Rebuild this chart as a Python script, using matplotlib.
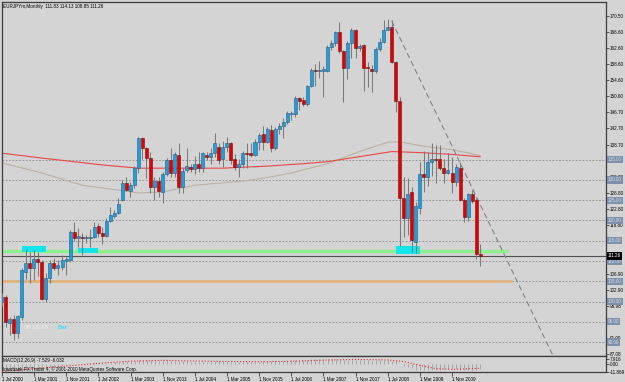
import numpy as np
import matplotlib.pyplot as plt
import matplotlib.transforms as mtransforms
from matplotlib.patches import Rectangle

plt.rcParams['font.family'] = ['Liberation Sans', 'DejaVu Sans']

# EURJPYm monthly bars, Jul 2000 .. Jun 2010 (bar index 0..119)
opens = [100.0, 101.1, 94.8, 95.7, 92.2, 96.2, 107.3, 109.4, 108.2, 110.4,
         109.7, 100.6, 105.8, 109.4, 108.2, 108.5, 109.9, 110.2, 117.1, 115.8,
         115.9, 115.7, 115.7, 115.9, 118.6, 116.9, 116.2, 119.9, 121.1, 121.8,
         125.0, 129.2, 127.2, 128.7, 132.9, 140.3, 137.8, 135.4, 128.2, 129.7,
         127.0, 131.5, 134.9, 131.7, 136.1, 128.2, 132.4, 133.2, 132.7, 133.9,
         132.9, 136.1, 135.6, 136.6, 138.1, 135.2, 138.1, 139.1, 135.2, 133.2,
         133.9, 136.6, 136.6, 136.1, 139.4, 141.3, 139.4, 142.3, 137.9, 142.5,
         143.3, 144.3, 146.3, 146.3, 150.2, 149.7, 148.7, 153.2, 157.1, 156.9,
         156.9, 156.9, 162.9, 163.8, 166.5, 161.8, 157.6, 163.8, 167.0, 162.5,
         163.3, 157.8, 157.3, 156.9, 162.3, 164.0, 167.0, 167.7, 159.1, 149.5,
         125.6, 120.6, 127.0, 114.6, 123.0, 131.5, 130.7, 134.4, 135.2, 135.2,
         132.9, 131.7, 131.7, 129.4, 132.9, 125.0, 120.8, 126.5, 125.0, 111.83]
highs = [102.0, 101.6, 96.2, 96.7, 96.8, 108.3, 113.0, 112.3, 112.8, 112.3,
         110.2, 107.0, 110.2, 110.7, 110.2, 111.4, 111.0, 117.6, 119.6, 118.1,
         116.9, 116.5, 118.0, 119.6, 119.3, 118.4, 120.5, 123.3, 122.7, 125.5,
         130.0, 130.7, 129.5, 133.5, 140.5, 140.5, 138.1, 136.8, 130.7, 130.7,
         132.0, 135.5, 137.8, 137.0, 139.1, 133.0, 137.8, 134.0, 136.0, 137.0,
         137.0, 137.0, 137.8, 141.6, 139.0, 139.6, 140.6, 139.4, 136.3, 135.2,
         137.1, 139.0, 139.1, 140.1, 141.6, 143.3, 143.0, 143.5, 143.0, 144.0,
         145.3, 147.0, 147.0, 150.7, 150.5, 150.5, 153.5, 157.5, 158.6, 159.3,
         158.1, 163.3, 164.5, 166.8, 169.0, 162.0, 164.3, 167.5, 167.3, 163.5,
         163.5, 159.1, 158.3, 162.8, 165.0, 169.4, 169.7, 169.4, 159.3, 150.5,
         130.7, 130.5, 128.2, 124.5, 134.4, 137.1, 137.0, 139.2, 138.6, 138.6,
         135.2, 136.7, 135.7, 133.9, 134.4, 125.5, 126.8, 127.5, 125.5, 114.13]
lows = [99.0, 93.7, 91.8, 90.5, 91.0, 95.5, 105.5, 104.6, 105.3, 106.3,
        100.3, 99.9, 104.6, 107.8, 106.5, 107.8, 106.5, 109.7, 115.0, 113.5,
        111.4, 114.5, 113.5, 115.6, 115.9, 114.2, 115.9, 119.6, 120.5, 121.6,
        124.8, 127.2, 125.8, 128.0, 131.7, 135.2, 130.4, 126.7, 125.0, 125.7,
        124.3, 131.0, 130.7, 130.7, 126.7, 126.7, 132.0, 132.0, 131.5, 132.0,
        132.0, 135.0, 133.9, 135.6, 133.9, 133.2, 136.8, 134.0, 132.4, 130.7,
        133.0, 133.0, 135.6, 135.8, 137.5, 137.4, 139.0, 136.9, 137.5, 141.3,
        140.3, 143.8, 144.7, 145.5, 147.3, 148.3, 148.3, 152.9, 153.2, 155.2,
        150.5, 156.7, 162.0, 163.0, 161.3, 149.2, 154.9, 160.0, 160.0, 161.7,
        151.9, 153.0, 151.7, 156.3, 161.7, 163.8, 167.0, 158.9, 146.8, 113.6,
        115.9, 116.5, 112.2, 112.1, 121.6, 127.0, 128.5, 131.0, 129.2, 132.5,
        129.2, 131.5, 126.7, 128.5, 124.8, 119.6, 119.8, 124.3, 110.4, 108.85]
closes = [101.1, 94.9, 95.7, 92.2, 96.4, 107.8, 109.4, 108.2, 110.6, 109.7,
          100.6, 105.8, 109.4, 108.2, 108.9, 110.2, 110.6, 117.1, 115.6, 115.95,
          115.6, 115.9, 116.0, 118.4, 116.9, 116.2, 119.9, 121.3, 121.8, 124.0,
          129.2, 127.5, 128.7, 132.9, 140.3, 137.8, 135.4, 128.2, 129.7, 127.2,
          131.5, 134.9, 131.7, 136.3, 128.2, 132.2, 133.4, 132.7, 133.9, 132.9,
          136.6, 135.6, 136.6, 139.1, 134.9, 138.1, 139.1, 134.9, 133.2, 133.9,
          136.6, 136.3, 136.1, 139.4, 141.1, 139.4, 142.5, 137.9, 142.5, 143.3,
          144.3, 146.5, 146.5, 150.2, 149.5, 148.7, 153.2, 157.1, 156.9, 157.0,
          157.3, 162.9, 163.8, 166.5, 161.8, 157.6, 163.8, 167.0, 162.5, 163.0,
          157.6, 157.6, 156.9, 162.3, 164.0, 167.0, 167.7, 159.1, 149.5, 125.6,
          120.6, 126.5, 115.1, 123.6, 131.5, 130.7, 134.4, 135.2, 134.9, 132.9,
          131.7, 132.4, 129.4, 133.2, 125.0, 120.8, 126.5, 124.8, 111.8, 111.26]

# moving averages (read at a few bars)
ma_red_bars = [0, 10, 25, 34, 50, 55, 66, 75, 81, 90, 97, 105, 112, 119]
ma_red_vals = [136.6, 135.4, 133.7, 132.9, 132.9, 132.9, 133.4, 134.0, 134.5,
               135.9, 137.0, 136.7, 136.3, 135.7]
ma_gray_bars = [0, 10, 20, 34, 40, 48, 60, 65, 72, 81, 89, 96, 99, 105, 113, 119]
ma_gray_vals = [134.2, 131.7, 128.7, 126.8, 127.0, 128.7, 129.7, 130.4, 131.7,
                134.0, 137.0, 139.3, 139.4, 138.3, 137.3, 136.0]

# MACD(12,26,9)
macd_main = [-9.6, -10.4, -11.1, -11.6, -11.87, -10.6, -9.2, -8.0, -6.8, -5.9,
             -6.0, -5.4, -4.6, -4.0, -3.4, -2.8, -2.2, -1.0, -0.2, 0.3,
             0.7, 1.0, 1.3, 1.7, 1.8, 1.9, 2.2, 2.6, 3.0, 3.5,
             4.3, 4.7, 5.0, 5.5, 6.6, 7.1, 7.2, 6.7, 6.3, 5.9,
             5.8, 5.9, 5.7, 5.6, 5.0, 4.7, 4.5, 4.2, 4.1, 3.9,
             4.0, 4.0, 4.1, 4.4, 4.3, 4.3, 4.4, 4.1, 3.8, 3.5,
             3.5, 3.5, 3.5, 3.8, 4.2, 4.4, 4.7, 4.6, 4.8, 5.0,
             5.3, 5.6, 5.8, 6.2, 6.4, 6.5, 6.9, 7.4, 7.6, 7.8,
             7.8, 7.9, 7.9, 7.9, 7.6, 7.0, 7.0, 7.2, 7.1, 7.0,
             6.5, 6.1, 5.7, 5.8, 5.9, 6.2, 6.4, 5.7, 4.4, 1.2,
             -1.8, -3.5, -6.2, -8.3, -8.6, -8.9, -8.6, -8.2, -7.9, -7.8,
             -7.7, -7.5, -7.7, -7.4, -7.9, -8.4, -8.0, -7.8, -8.3, -7.529]
signal_bars = [0, 8, 16, 20, 24, 32, 40, 48, 56, 64, 72, 80, 88, 96, 100, 104,
               108, 112, 119]
signal_vals = [-10.5, -6.5, -2.5, -0.6, 1.5, 4.8, 6.0, 5.0, 4.3, 4.0, 4.6, 6.3,
               7.4, 6.6, 4.2, -1.5, -6.5, -7.6, -6.0]

# drawn objects
grid_levels = [135, 130, 125, 120, 115, 110, 105, 100, 95, 90]
level_labels = ['135.00', '130.00', '125.00', '120.00', '115.00', '110.00',
                '105.00', '100.00', '95.00', '90.00']
boxes = [(5, 11, 112.3, 113.6), (19, 24, 112.1, 113.2), (98, 104, 111.7, 113.6)]
green_level, green_end = 112.5, 126
orange_level, orange_end = 105.1, 127
trend_bars = [97, 137]
trend_prices = [169.2, 86.9]
bid = 111.26

# scale labels that are not hidden behind the level boxes
price_labels = ['170.50', '166.60', '162.60', '158.60', '154.60', '150.60',
                '146.70', '142.70', '138.70', '130.70', '126.80',
                '122.80', '118.80', '106.90', '102.90',
                '98.98', '91.00', '87.08']
time_idx = [0, 8, 16, 24, 32, 40, 48, 56, 64, 72, 80, 88, 96, 104, 112]
time_labels = ['1 Jul 2000', '1 Mar 2001', '1 Nov 2001', '1 Jul 2002',
               '1 Mar 2003', '1 Nov 2003', '1 Jul 2004', '1 Mar 2005',
               '1 Nov 2005', '1 Jul 2006', '1 Mar 2007', '1 Nov 2007',
               '1 Jul 2008', '1 Mar 2009', '1 Nov 2009']

bg = '#d4d4d4'
edge = '#3c3c3c'
fs = 3.3

fig = plt.figure(figsize=(6.25, 3.82), dpi=100, facecolor=bg)
ax = fig.add_axes([2 / 625, (382 - 355.7) / 382, 604 / 625, 353.7 / 382])
axm = fig.add_axes([2 / 625, (382 - 372.3) / 382, 604 / 625, 16.6 / 382])
for a in (ax, axm):
    a.set_facecolor(bg)
    a.set_xlim(0.075, 150.3)
    for s in a.spines.values():
        s.set_color(edge)
        s.set_linewidth(0.9)

ax.set_ylim(86.65, 173.88)

# grid lines
for lv in grid_levels:
    ax.axhline(lv, color='#8c8c8c', lw=0.6, ls=(0, (2, 2)), zorder=1)

# moving averages
ax.plot(ma_gray_bars, ma_gray_vals, color='#bcb2a4', lw=0.8, zorder=2)
ax.plot(ma_red_bars, ma_red_vals, color='#e84848', lw=0.8, zorder=2)

# levels and boxes
ax.hlines(green_level, -2, green_end, color='#8cf08c', lw=2.4, zorder=2)
ax.hlines(orange_level, -2, orange_end, color='#e2b27e', lw=2.0, zorder=2)
for x0, x1, p0, p1 in boxes:
    ax.add_patch(Rectangle((x0, p0), x1 - x0, p1 - p0, fc='#10e6ec',
                           ec='none', zorder=2.5))
ax.axhline(bid, color='#505050', lw=0.8, zorder=2)
ax.plot(trend_bars, trend_prices, color='#7c8888', lw=0.8,
        ls=(0, (5, 3)), zorder=3)

# candles
idx = np.arange(len(opens))
o = np.array(opens)
c = np.array(closes)
ax.vlines(idx, lows, highs, color='#7a7a7a', lw=0.75, zorder=4)
up = c >= o
bottoms = np.minimum(o, c)
heights = np.maximum(np.abs(c - o), 0.25)
ax.bar(idx[up], heights[up], bottom=bottoms[up], width=0.75,
       color='#1e9fe2', edgecolor='#2c5878', lw=0.4, zorder=5)
ax.bar(idx[~up], heights[~up], bottom=bottoms[~up], width=0.75,
       color='#e40000', edgecolor='#701010', lw=0.4, zorder=5)

# price scale
ax.yaxis.tick_right()
ax.set_yticks([float(t) for t in price_labels])
ax.set_yticklabels(price_labels)
ax.tick_params(axis='y', length=2, width=0.6, color=edge, labelsize=fs, pad=1)
ax.set_xticks([])
trans = mtransforms.blended_transform_factory(ax.transAxes, ax.transData)
for lv, lab in zip(grid_levels, level_labels):
    ax.text(1.003, lv, lab, transform=trans, fontsize=fs, color='#d6dce6',
            va='center', ha='left', zorder=10, clip_on=False,
            bbox=dict(boxstyle='square,pad=0.25', fc='#7e90aa', ec='none'))
ax.text(1.003, bid, f'{bid:.2f}', transform=trans, fontsize=fs, color='white',
        va='center', ha='left', zorder=11, clip_on=False,
        bbox=dict(boxstyle='square,pad=0.25', fc='black', ec='none'))

ax.text(0.002, 0.988, 'EURJPYm,Monthly  111.83 114.13 108.85 111.26',
        transform=ax.transAxes, fontsize=fs, va='center', ha='left')
ax.text(5.5, 93.5, '08:18:15', fontsize=4.6, color='#ececec', va='center')
ax.text(13.8, 93.5, 'Bar', fontsize=4.6, color='#18dcff', va='center')

# MACD panel
axm.set_ylim(-12, 13)
axm.vlines(idx, 0, macd_main, color='#a6a6a6', lw=0.7, zorder=2)
axm.plot(signal_bars, signal_vals, color='#e03030', lw=0.8, ls=':', zorder=3)
axm.yaxis.tick_right()
axm.set_yticks([7.916, 0, -11.869])
axm.set_yticklabels(['7.916', '0.00', '-11.869'])
axm.tick_params(axis='y', length=2, width=0.6, color=edge, labelsize=fs, pad=1)
axm.text(0.002, 0.7, 'MACD(12,26,9) -7.529 -6.032', transform=axm.transAxes,
         fontsize=fs, va='center', ha='left')
axm.text(0.002, 0.2,
         'Interbank FX Trader 4, \u00a9 2001-2010 MetaQuotes Software Corp.',
         transform=axm.transAxes, fontsize=fs, va='center', ha='left')
axm.set_xticks(time_idx)
axm.set_xticklabels(time_labels)
axm.tick_params(axis='x', length=3, width=0.6, color=edge, labelsize=fs,
                pad=0.5)
for lab in axm.get_xticklabels():
    lab.set_horizontalalignment('left')

fig.savefig('out.png', dpi=100, facecolor=bg)
